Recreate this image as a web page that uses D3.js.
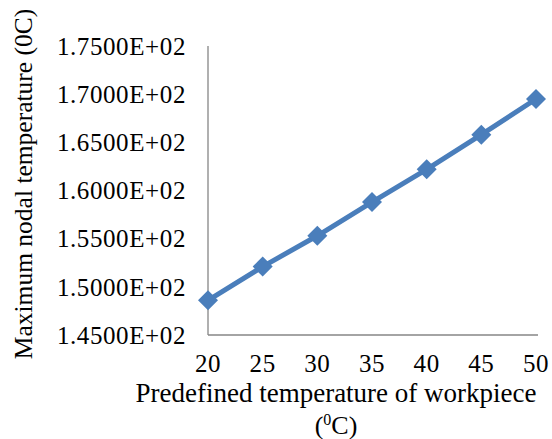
<!DOCTYPE html>
<html>
<head>
<meta charset="utf-8">
<script src="https://cdn.jsdelivr.net/npm/d3@7"></script>
<style>
  body { margin: 0; background: #fff; }
</style>
</head>
<body>
<div id="plot"></div>
<script>
var tempX = [20, 25, 30, 35, 40, 45, 50];
var maxNodal = [148.6, 152.1, 155.3, 158.8, 162.2, 165.8, 169.5];
var yTicks = [145, 150, 155, 160, 165, 170, 175];

var W = 552, H = 439;
var plotLeft = 208, plotRight = 536, plotTop = 46, plotBottom = 335;
var serif = "'Liberation Serif', 'Times New Roman', 'DejaVu Serif', serif";

var svg = d3.select("#plot").append("svg")
  .attr("width", W)
  .attr("height", H)
  .style("font-family", serif);

var x = d3.scaleLinear().domain([20, 50]).range([plotLeft, plotRight]);
var y = d3.scaleLinear().domain([145, 175]).range([plotBottom, plotTop]);

function sci(v) {
  return (v / 100).toFixed(4) + "E+02";
}

// axes lines
svg.append("line")
  .attr("x1", plotLeft).attr("x2", plotLeft)
  .attr("y1", plotTop).attr("y2", plotBottom)
  .attr("stroke", "#868686").attr("stroke-width", 1.3);
svg.append("line")
  .attr("x1", plotLeft).attr("x2", plotRight + 2)
  .attr("y1", plotBottom).attr("y2", plotBottom)
  .attr("stroke", "#868686").attr("stroke-width", 1.3);

// y tick labels
svg.append("g").selectAll("text")
  .data(yTicks)
  .enter().append("text")
  .attr("x", 186)
  .attr("y", function(d) { return y(d); })
  .attr("dy", "0.35em")
  .attr("text-anchor", "end")
  .attr("font-family", serif)
  .style("font-size", "25px")
  .style("letter-spacing", "0.6px")
  .text(sci);

// x tick labels
svg.append("g").selectAll("text")
  .data(tempX)
  .enter().append("text")
  .attr("x", function(d) { return x(d); })
  .attr("y", 363)
  .attr("dy", "0.35em")
  .attr("text-anchor", "middle")
  .attr("font-family", serif)
  .style("font-size", "25px")
  .style("letter-spacing", "0.6px")
  .text(function(d) { return d; });

// x title
svg.append("text")
  .attr("x", 336)
  .attr("y", 393)
  .attr("dy", "0.35em")
  .attr("text-anchor", "middle")
  .attr("font-family", serif)
  .style("font-size", "27px")
  .text("Predefined temperature of workpiece");

var t2 = svg.append("text")
  .attr("x", 336)
  .attr("y", 425)
  .attr("dy", "0.35em")
  .attr("text-anchor", "middle")
  .attr("font-family", serif)
  .style("font-size", "26px");
t2.append("tspan").text("(");
t2.append("tspan").attr("dy", "-9").style("font-size", "16px").text("0");
t2.append("tspan").attr("dy", "9").text("C)");

// y title
svg.append("text")
  .attr("transform", "translate(23," + 184 + ") rotate(-90)")
  .attr("dy", "0.35em")
  .attr("text-anchor", "middle")
  .attr("font-family", serif)
  .style("font-size", "25.5px")
  .text("Maximum nodal temperature (0C)");

// series
var line = d3.line()
  .x(function(d, i) { return x(tempX[i]); })
  .y(function(d) { return y(d); });

svg.append("path")
  .datum(maxNodal)
  .attr("d", line)
  .attr("fill", "none")
  .attr("stroke", "#4a7ebb")
  .attr("stroke-width", 5)
  .attr("stroke-linejoin", "round");

svg.append("g").selectAll("path")
  .data(maxNodal)
  .enter().append("path")
  .attr("d", d3.symbol().type(d3.symbolSquare).size(200))
  .attr("transform", function(d, i) {
    return "translate(" + x(tempX[i]) + "," + y(d) + ") rotate(45)";
  })
  .attr("fill", "#4a7ebb");
</script>
</body>
</html>
